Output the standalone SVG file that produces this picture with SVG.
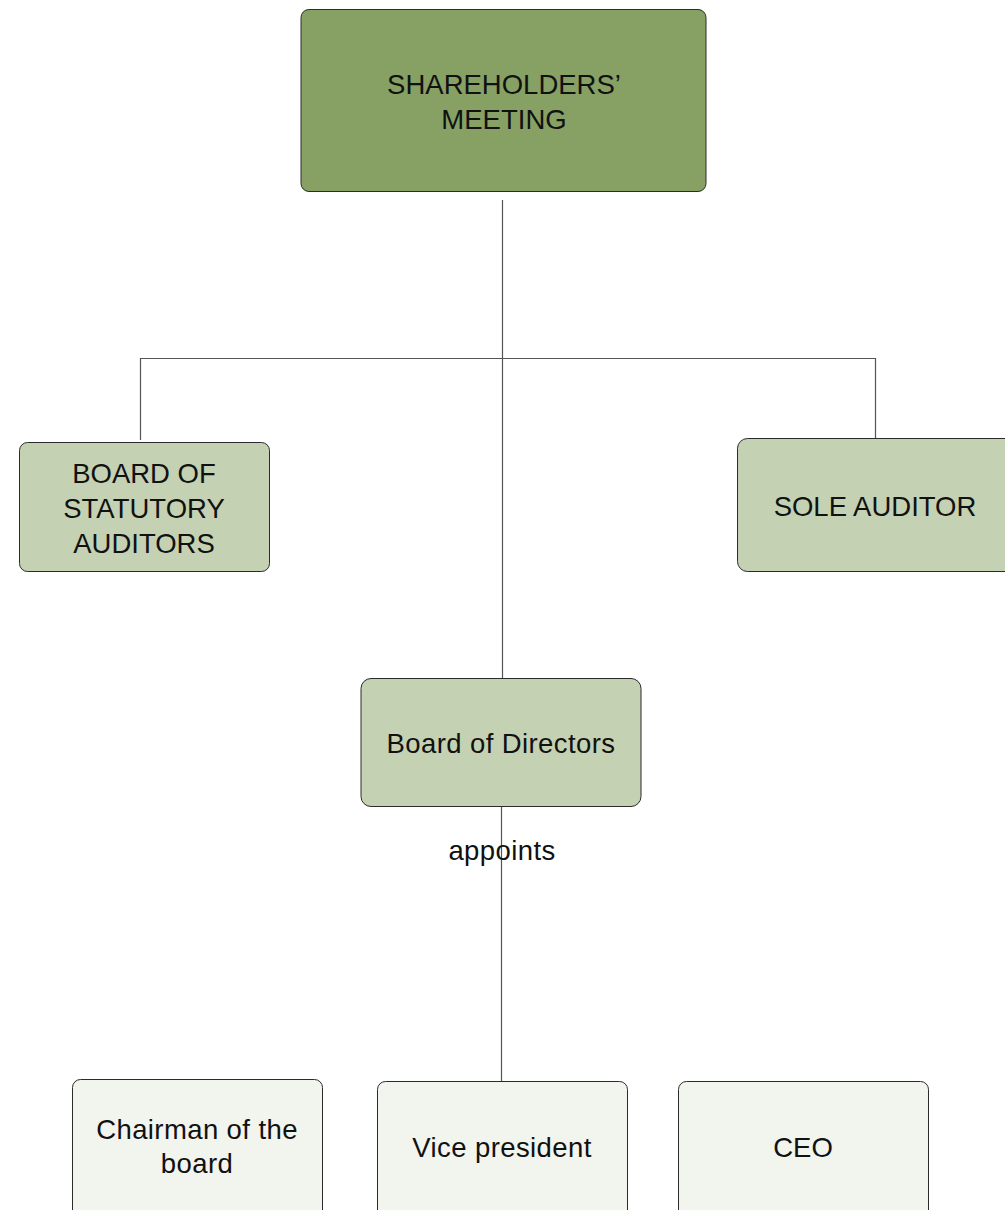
<svg xmlns="http://www.w3.org/2000/svg" width="1005" height="1210" viewBox="0 0 1005 1210">
<style>
.box{stroke:#2b2b2b;stroke-width:1}
.dark{fill:#87a165}
.mid{fill:#c5d1b3}
.light{fill:#f2f4ee}
.t{font-family:"Liberation Sans",Arial,sans-serif;font-size:27.5px;fill:#111;text-anchor:middle}
.lc{letter-spacing:0.4px}
.conn{stroke:#555;stroke-width:1.2;fill:none}
</style>
<rect width="1005" height="1210" fill="#ffffff"/>
<g id="connectors">
<path class="conn" d="M502.5 200 V680"/>
<path class="conn" d="M140.5 440 V358.5 H875.5 V438"/>
<path class="conn" d="M501.5 807 V1081"/>
</g>
<g id="shareholders">
<rect class="box dark" x="301" y="9.5" width="405" height="182" rx="8"/>
<text class="t" x="504" y="94">SHAREHOLDERS’</text>
<text class="t" x="504" y="129">MEETING</text>
</g>
<g id="statutory-auditors">
<rect class="box mid" x="19.5" y="442.5" width="250" height="129" rx="8"/>
<text class="t" x="144" y="483">BOARD OF</text>
<text class="t" x="144" y="518">STATUTORY</text>
<text class="t" x="144" y="553">AUDITORS</text>
</g>
<g id="sole-auditor">
<rect class="box mid" x="737.5" y="438.5" width="280" height="133" rx="10"/>
<text class="t" x="875" y="516">SOLE AUDITOR</text>
</g>
<g id="board-of-directors">
<rect class="box mid" x="361" y="678.5" width="280" height="128" rx="10"/>
<text class="t lc" x="501" y="753">Board of Directors</text>
</g>
<g id="label-appoints">
<text class="t lc" x="502" y="860">appoints</text>
</g>
<g id="chairman">
<rect class="box light" x="72.5" y="1079.5" width="250" height="150" rx="8"/>
<text class="t lc" x="197" y="1139">Chairman of the</text>
<text class="t lc" x="197" y="1173">board</text>
</g>
<g id="vice-president">
<rect class="box light" x="377.5" y="1081.5" width="250" height="150" rx="8"/>
<text class="t lc" x="502" y="1157">Vice president</text>
</g>
<g id="ceo">
<rect class="box light" x="678.5" y="1081.5" width="250" height="150" rx="8"/>
<text class="t" x="803" y="1157">CEO</text>
</g>
</svg>
